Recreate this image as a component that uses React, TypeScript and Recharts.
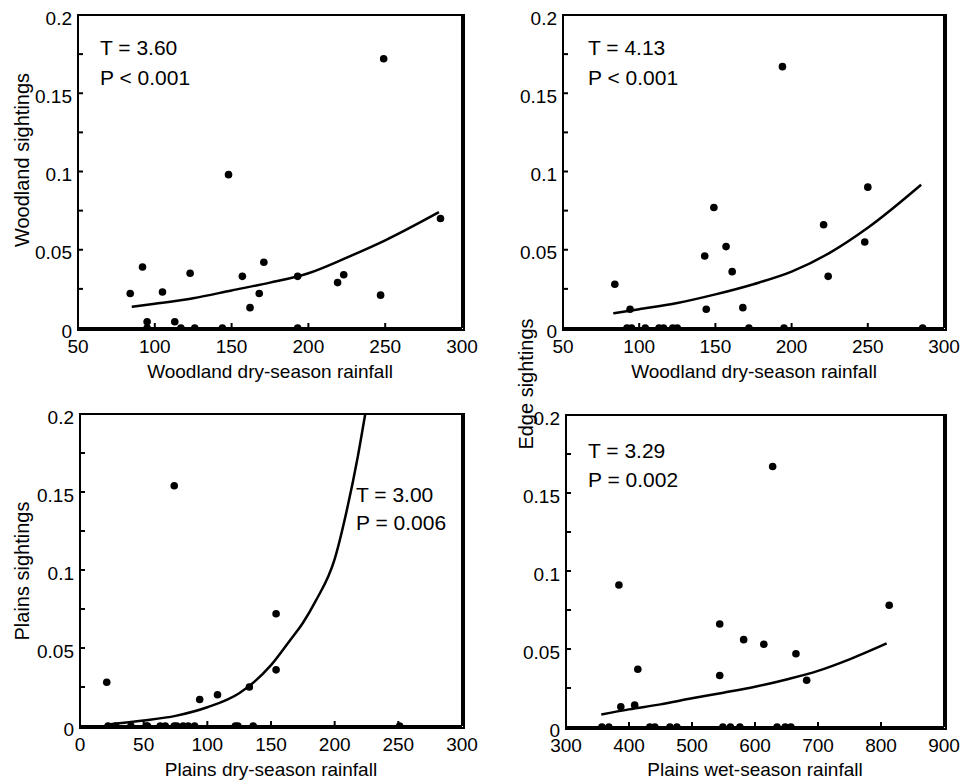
// Sightings against rainfall: four scatter panels, each with its fitted curve
import React from "react";
import { ComposedChart, Line, Scatter, XAxis, YAxis, ReferenceLine } from "recharts";

const FONT = '"Liberation Sans", Arial, Helvetica, sans-serif';

const yTicks = [0, 0.025, 0.05, 0.075, 0.1, 0.125, 0.15, 0.175, 0.2];
const woodXTicks = [50, 100, 150, 200, 250, 300];
const dryXTicks = [0, 50, 100, 150, 200, 250, 300];
const wetXTicks = [300, 400, 500, 600, 700, 800, 900];

// woodland sightings vs woodland dry-season rainfall
const woodX = [84, 92, 105, 95, 113, 123, 148, 157, 162, 168, 171, 193, 249, 286, 219, 223, 247, 95, 117, 126, 144, 193];
const woodY = [0.022, 0.039, 0.023, 0.004, 0.004, 0.035, 0.098, 0.033, 0.013, 0.022, 0.042, 0.033, 0.172, 0.07, 0.029, 0.034, 0.021, 0, 0, 0, 0, 0];
const woodFitX = [85, 100, 125, 150, 175, 200, 225, 250, 285];
const woodFitY = [0.0136, 0.0155, 0.019, 0.024, 0.029, 0.035, 0.045, 0.056, 0.074];

// edge sightings vs woodland dry-season rainfall
const edgeX = [84, 94, 143, 149, 144, 157, 161, 168, 194, 221, 250, 248, 224, 92, 95, 104, 113, 116, 122, 125, 172, 195, 286];
const edgeY = [0.028, 0.012, 0.046, 0.077, 0.012, 0.052, 0.036, 0.013, 0.167, 0.066, 0.09, 0.055, 0.033, 0, 0, 0, 0, 0, 0, 0, 0, 0, 0];
const edgeFitX = [83, 100, 125, 150, 175, 200, 225, 250, 285];
const edgeFitY = [0.0094, 0.012, 0.016, 0.0215, 0.028, 0.036, 0.048, 0.064, 0.0915];

// plains sightings vs plains dry-season rainfall
const plainsX = [21, 74, 94, 108, 133, 154, 154, 22, 28, 40, 52, 53, 63, 67, 74, 76, 81, 85, 90, 122, 124, 136, 251];
const plainsY = [0.028, 0.154, 0.017, 0.02, 0.025, 0.072, 0.036, 0, 0, 0, 0, 0, 0, 0, 0, 0, 0, 0, 0, 0, 0, 0, 0];
const plainsFitX = [22, 50, 75, 100, 125, 150, 165, 175, 185, 200, 210, 218, 224];
const plainsFitY = [0.001, 0.0035, 0.0065, 0.012, 0.021, 0.039, 0.055, 0.066, 0.08, 0.107, 0.14, 0.172, 0.2];

// edge sightings vs plains wet-season rainfall
const wetX = [384, 387, 409, 414, 544, 544, 582, 614, 628, 665, 682, 813, 357, 368, 433, 441, 465, 476, 549, 561, 576, 635, 648, 657];
const wetY = [0.091, 0.013, 0.014, 0.037, 0.066, 0.033, 0.056, 0.053, 0.167, 0.047, 0.03, 0.078, 0, 0, 0, 0, 0, 0, 0, 0, 0, 0, 0, 0];
const wetFitX = [356, 400, 450, 500, 550, 600, 650, 700, 750, 809];
const wetFitY = [0.008, 0.0113, 0.0145, 0.0184, 0.022, 0.0258, 0.0305, 0.036, 0.0434, 0.0536];

const zip = (xs: number[], ys: number[]) => xs.map((x, i) => ({ x, y: ys[i] }));

const TICK = 5;

const XTick = (props: any) => {
  const { x, y, payload } = props;
  return (
    <text x={x} y={y + TICK + 25} textAnchor="middle" fontSize={19} fontFamily={FONT} fill="#000">
      {payload.value}
    </text>
  );
};

const YTick = (props: any) => {
  const { x, y, payload } = props;
  const major = Math.round(payload.value * 1000) % 50 === 0;
  if (!major) return <g />;
  return (
    <text x={x - TICK - 6} y={y + 3} dy="0.35em" textAnchor="end" fontSize={19} fontFamily={FONT} fill="#000">
      {String(payload.value)}
    </text>
  );
};

const dot = (p: any) => <circle cx={p.cx} cy={p.cy} r={3.8} fill="#000" />;

const axisStyle = { stroke: "#000", strokeWidth: 2 };

type Layout = {
  left: number;
  top: number;
  width: number;
  height: number;
  mTop: number;
  mRight: number;
  yWidth: number;
  xHeight: number;
};

const layouts: Layout[] = [
  { left: 0, top: 0, width: 480, height: 390, mTop: 15, mRight: 18, yWidth: 78, xHeight: 62 },
  { left: 485, top: 0, width: 476, height: 390, mTop: 15, mRight: 17, yWidth: 78, xHeight: 62 },
  { left: 0, top: 392, width: 480, height: 392, mTop: 22, mRight: 18, yWidth: 80, xHeight: 58 },
  { left: 485, top: 392, width: 476, height: 392, mTop: 23, mRight: 17, yWidth: 81, xHeight: 57 },
];

function Panel({
  layout,
  xTicks,
  points,
  fit,
}: {
  layout: Layout;
  xTicks: number[];
  points: { x: number; y: number }[];
  fit: { x: number; y: number }[];
}) {
  const { left, top, width, height, mTop, mRight, yWidth, xHeight } = layout;
  const lo = xTicks[0];
  const hi = xTicks[xTicks.length - 1];
  const boxW = width - mRight - yWidth;
  const boxH = height - xHeight - mTop;
  return (
    <div style={{ position: "absolute", left, top, width, height }}>
      <ComposedChart width={width} height={height} margin={{ top: mTop, right: mRight, left: 0, bottom: 0 }}>
        <XAxis
          dataKey="x"
          type="number"
          domain={[lo, hi]}
          ticks={xTicks}
          interval={0}
          allowDataOverflow
          height={xHeight}
          tickSize={-TICK}
          tickMargin={0}
          tickLine={axisStyle}
          tick={<XTick />}
          axisLine={axisStyle}
        />
        <YAxis
          dataKey="y"
          type="number"
          domain={[0, 0.2]}
          ticks={yTicks}
          interval={0}
          allowDataOverflow
          width={yWidth}
          tickSize={-TICK}
          tickMargin={0}
          tickLine={axisStyle}
          tick={<YTick />}
          axisLine={axisStyle}
        />
        <ReferenceLine y={0.2} stroke="#000" strokeWidth={2} ifOverflow="visible" />
        <ReferenceLine x={hi} stroke="#000" strokeWidth={2} ifOverflow="visible" />
        <Line
          data={fit}
          dataKey="y"
          type="monotone"
          stroke="#000"
          strokeWidth={2.5}
          dot={false}
          activeDot={false}
          isAnimationActive={false}
        />
        <Scatter data={points} dataKey="y" shape={dot} isAnimationActive={false} />
      </ComposedChart>
      {/* box outline, so the top and right edges show even without the reference lines */}
      <div
        style={{
          position: "absolute",
          left: yWidth - 1,
          top: mTop - 1,
          width: boxW,
          height: boxH,
          border: "2px solid #000",
          pointerEvents: "none",
        }}
      />
    </div>
  );
}

const T = (props: { x: number; y: number; size?: number; children: React.ReactNode; anchor?: string; rotate?: boolean }) => (
  <text
    x={props.x}
    y={props.y}
    fontSize={props.size ?? 21}
    fontFamily={FONT}
    fill="#000"
    textAnchor={props.anchor ?? "start"}
    dominantBaseline={props.rotate ? "central" : undefined}
    transform={props.rotate ? `rotate(-90 ${props.x} ${props.y})` : undefined}
  >
    {props.children}
  </text>
);

export default function App() {
  return (
    <div style={{ position: "absolute", left: 0, top: 0, width: 961, height: 784, background: "#fff" }}>
      <Panel layout={layouts[0]} xTicks={woodXTicks} points={zip(woodX, woodY)} fit={zip(woodFitX, woodFitY)} />
      <Panel layout={layouts[1]} xTicks={woodXTicks} points={zip(edgeX, edgeY)} fit={zip(edgeFitX, edgeFitY)} />
      <Panel layout={layouts[2]} xTicks={dryXTicks} points={zip(plainsX, plainsY)} fit={zip(plainsFitX, plainsFitY)} />
      <Panel layout={layouts[3]} xTicks={wetXTicks} points={zip(wetX, wetY)} fit={zip(wetFitX, wetFitY)} />
      <svg width={961} height={784} style={{ position: "absolute", left: 0, top: 0, pointerEvents: "none" }}>
        <T x={100} y={55}>T = 3.60</T>
        <T x={100} y={85}>P &lt; 0.001</T>
        <T x={588} y={55}>T = 4.13</T>
        <T x={588} y={85}>P &lt; 0.001</T>
        <T x={356} y={502}>T = 3.00</T>
        <T x={356} y={530}>P = 0.006</T>
        <T x={588} y={458}>T = 3.29</T>
        <T x={588} y={487}>P = 0.002</T>

        <T x={270} y={378} size={19} anchor="middle">Woodland dry-season rainfall</T>
        <T x={754} y={378} size={19} anchor="middle">Woodland dry-season rainfall</T>
        <T x={271} y={776} size={19} anchor="middle">Plains dry-season rainfall</T>
        <T x={755} y={776} size={19} anchor="middle">Plains wet-season rainfall</T>

        <T x={22} y={160} size={20} anchor="middle" rotate>Woodland sightings</T>
        <T x={22} y={571} size={20} anchor="middle" rotate>Plains sightings</T>
        <T x={526} y={384} size={20} anchor="middle" rotate>Edge sightings</T>
      </svg>
    </div>
  );
}
